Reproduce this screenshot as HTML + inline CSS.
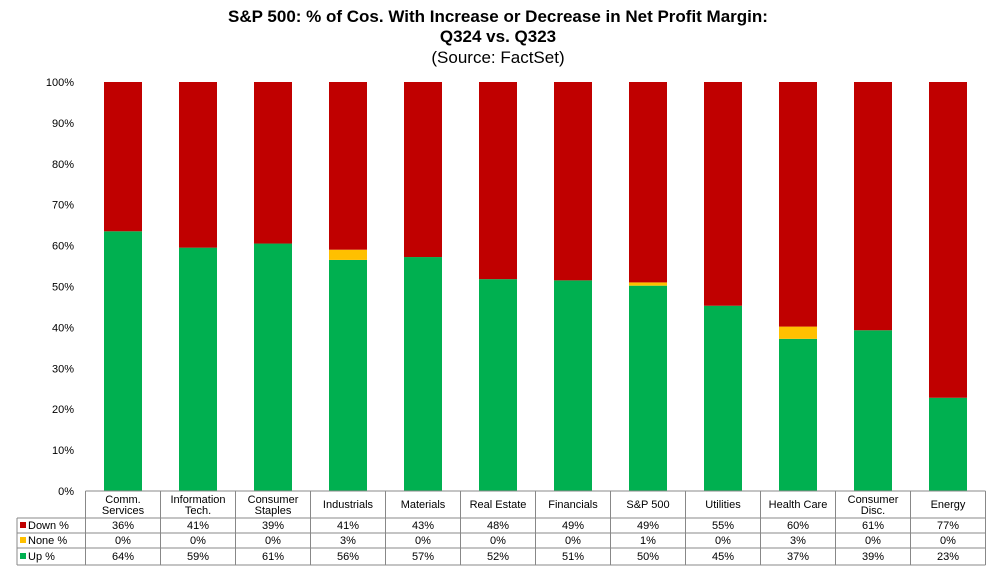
<!DOCTYPE html>
<html><head><meta charset="utf-8"><style>
body{margin:0;background:#fff;width:997px;height:570px;overflow:hidden;font-family:"Liberation Sans",sans-serif}
</style></head><body>
<svg id="c" width="997" height="570" xmlns="http://www.w3.org/2000/svg" font-family="Liberation Sans, sans-serif">
<text x="498" y="22" text-anchor="middle" font-size="17" font-weight="bold">S&amp;P 500: % of Cos. With Increase or Decrease in Net Profit Margin:</text>
<text x="498" y="42" text-anchor="middle" font-size="17" font-weight="bold">Q324 vs. Q323</text>
<text x="498" y="63" text-anchor="middle" font-size="17">(Source: FactSet)</text>
<g id="g"></g>
</svg>
<script>
const categories=[["Comm.","Services"],["Information","Tech."],["Consumer","Staples"],["Industrials"],["Materials"],["Real Estate"],["Financials"],["S&P 500"],["Utilities"],["Health Care"],["Consumer","Disc."],["Energy"]];
const upVals=[63.5,59.5,60.5,56.5,57.2,51.8,51.5,50.2,45.3,37.2,39.3,22.8];
const noneVals=[0,0,0,2.5,0,0,0,0.8,0,3,0,0];
const downLabels=["36%","41%","39%","41%","43%","48%","49%","49%","55%","60%","61%","77%"];
const noneLabels=["0%","0%","0%","3%","0%","0%","0%","1%","0%","3%","0%","0%"];
const upLabels=["64%","59%","61%","56%","57%","52%","51%","50%","45%","37%","39%","23%"];
const yTicks=[0,10,20,30,40,50,60,70,80,90,100];
const NS="http://www.w3.org/2000/svg",g=document.getElementById('g');
const L=85.5,W=75,T=82,B=491;
const x=i=>L+i*W, y=v=>B-(B-T)*v/100;
function mk(t,a,p){const e=document.createElementNS(NS,t);for(const k in a)e.setAttribute(k,a[k]);(p||g).appendChild(e);return e;}
yTicks.forEach(v=>{const t=mk('text',{x:74,y:y(v)+4,'text-anchor':'end','font-size':11});t.textContent=v+'%';

});
categories.forEach((c,i)=>{
 const bx=x(i)+18.5,bw=38,u=upVals[i],n=noneVals[i];
 const r1=mk('rect',{x:bx,y:y(u),width:bw,height:y(0)-y(u),fill:'#00b050'});
 
 
 if(n>0){const r2=mk('rect',{x:bx,y:y(u+n),width:bw,height:y(u)-y(u+n),fill:'#ffc000'});
 
 }
 const r3=mk('rect',{x:bx,y:y(100),width:bw,height:y(u+n)-y(100),fill:'#c00000'});
 
 
 const cx=x(i)+W/2;
 c.forEach((s,j)=>{const t=mk('text',{x:cx,y:c.length>1?503+j*11:508,'text-anchor':'middle','font-size':11});t.textContent=s;
 
 });
 [[downLabels,529],[noneLabels,544],[upLabels,560]].forEach(([arr,yy])=>{const t=mk('text',{x:cx,y:yy,'text-anchor':'middle','font-size':11});t.textContent=arr[i];
 
 });
});
const R=L+12*W,st={stroke:'#888','stroke-width':1,fill:'none'};
mk('line',Object.assign({x1:L,y1:491,x2:R,y2:491},st));
[518,533,548,565].forEach(yy=>mk('line',Object.assign({x1:17,y1:yy,x2:R,y2:yy},st)));
mk('line',Object.assign({x1:17,y1:518,x2:17,y2:565},st));
for(let i=0;i<=12;i++)mk('line',Object.assign({x1:x(i),y1:491,x2:x(i),y2:565},st));
[["Down %","#c00000",529],["None %","#ffc000",544],["Up %","#00b050",560]].forEach(([s,c,yy])=>{
 const r=mk('rect',{x:20,y:yy-7,width:6,height:6,fill:c});
 
 
 const t=mk('text',{x:28,y:yy,'font-size':11});t.textContent=s;
 
 });
</script>
</body></html>
